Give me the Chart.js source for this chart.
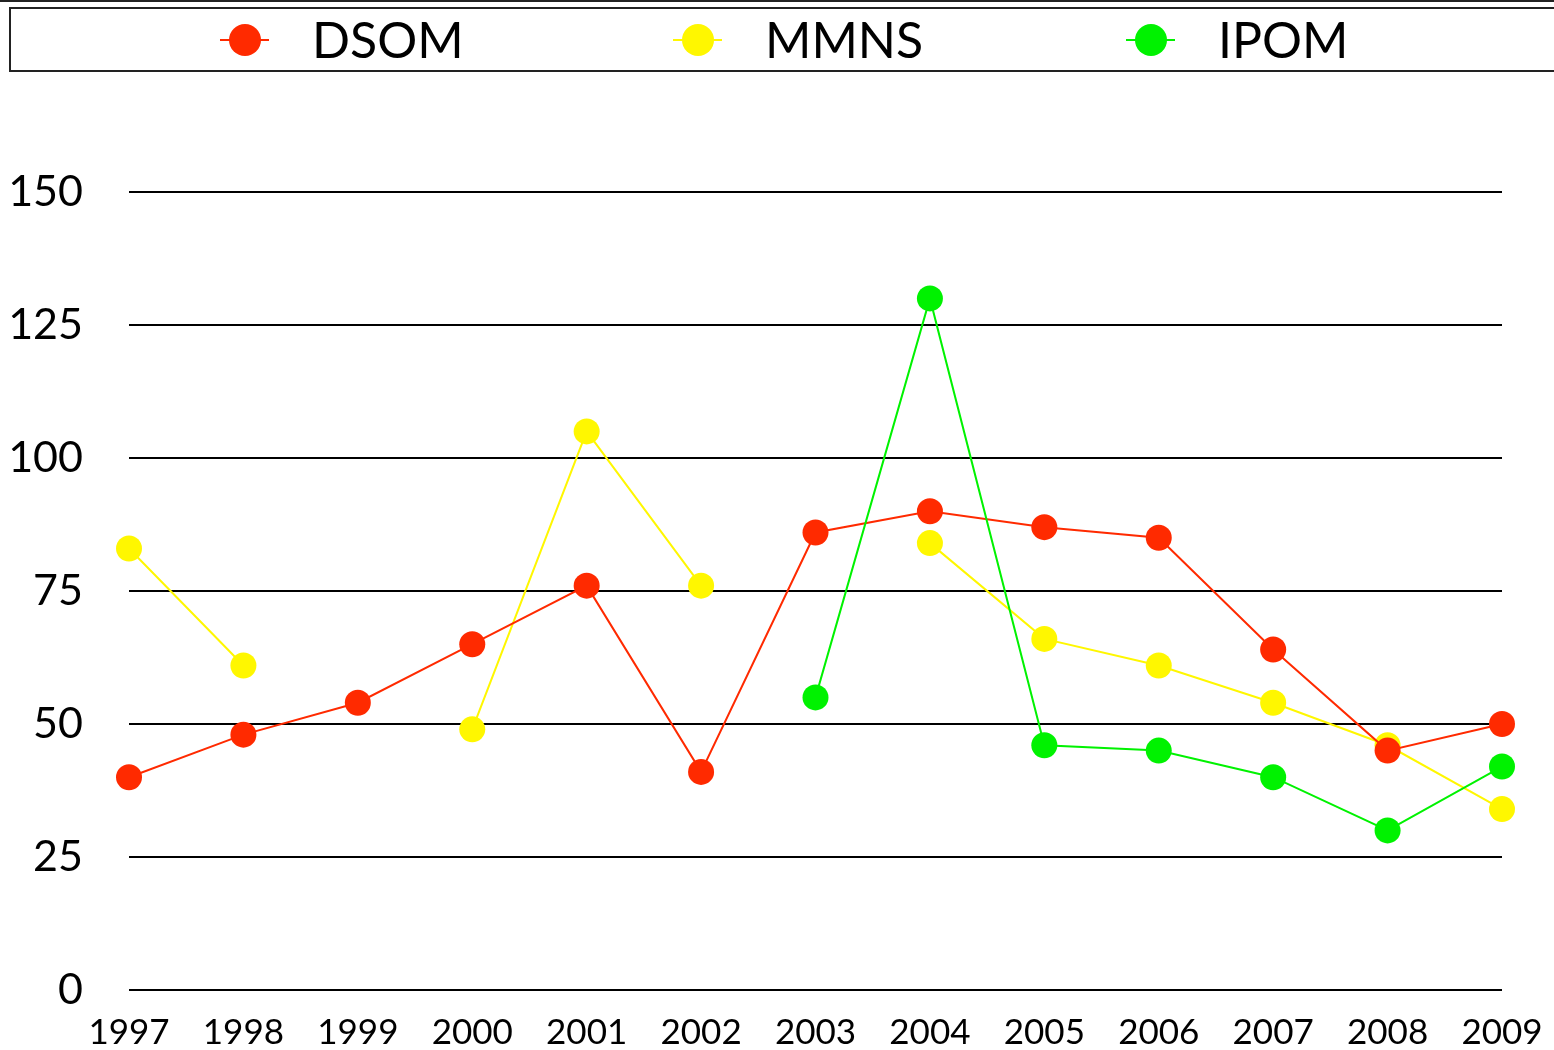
<!DOCTYPE html>
<html>
<head>
<meta charset="utf-8">
<script src="https://cdn.jsdelivr.net/npm/chart.js@4/dist/chart.umd.min.js"></script>
<style>
html,body{margin:0;padding:0;background:#fff;}
#c{display:block;}
</style>
</head>
<body>
<canvas id="c" width="1554" height="1050"></canvas>
<script>
const years = ['1997','1998','1999','2000','2001','2002','2003','2004','2005','2006','2007','2008','2009'];
const dsom = [40,48,54,65,76,41,86,90,87,85,64,45,50];
const mmns = [83,61,null,49,105,76,null,84,66,61,54,46,34];
const ipom = [null,null,null,null,null,null,55,130,46,45,40,30,42];
const seriesNames = ['DSOM','MMNS','IPOM'];
const seriesColors = ['#ff2a00','#fff700','#00f200'];
const yTicks = [0,25,50,75,100,125,150];

const FONT = 'Lato, "Open Sans", sans-serif';

const legendPlugin = {
  id: 'boxLegend',
  afterDraw(chart) {
    const ctx = chart.ctx;
    ctx.save();
    ctx.strokeStyle = '#222';
    ctx.lineWidth = 2;
    ctx.beginPath();
    ctx.moveTo(0, 1); ctx.lineTo(1554, 1);
    ctx.stroke();
    ctx.beginPath();
    ctx.rect(10, 8, 1560, 63);
    ctx.stroke();
    const centers = [245, 698, 1151];
    ctx.font = '50px ' + FONT;
    ctx.textBaseline = 'middle';
    ctx.textAlign = 'left';
    chart.data.datasets.forEach((ds, i) => {
      const cx = centers[i], cy = 40;
      ctx.strokeStyle = ds.borderColor;
      ctx.lineWidth = 2;
      ctx.beginPath();
      ctx.moveTo(cx - 25, cy); ctx.lineTo(cx + 24, cy);
      ctx.stroke();
      ctx.fillStyle = ds.borderColor;
      ctx.beginPath();
      ctx.arc(cx, cy, 16, 0, Math.PI * 2);
      ctx.fill();
      ctx.fillStyle = '#000';
      ctx.fillText(ds.label, cx + 67, cy + 2);
    });
    ctx.restore();
  }
};

const mk = (i, data, order) => ({
  label: seriesNames[i],
  data: data,
  borderColor: seriesColors[i],
  backgroundColor: seriesColors[i],
  pointBackgroundColor: seriesColors[i],
  pointBorderWidth: 0,
  pointRadius: 13,
  pointHoverRadius: 13,
  borderWidth: 2,
  spanGaps: false,
  tension: 0,
  order: order
});

new Chart(document.getElementById('c'), {
  type: 'line',
  data: {
    labels: years,
    datasets: [mk(0, dsom, 1), mk(1, mmns, 2), mk(2, ipom, 0)]
  },
  plugins: [legendPlugin],
  options: {
    responsive: false,
    animation: false,
    events: [],
    layout: { padding: { top: 192, right: 52, left: 0, bottom: 0 } },
    plugins: { legend: { display: false }, tooltip: { enabled: false } },
    scales: {
      x: {
        offset: false,
        grid: { display: false, drawTicks: false },
        border: { display: false },
        ticks: { color: '#000', font: { family: FONT, size: 35 }, padding: 22, maxRotation: 0, autoSkip: false },
        afterFit(s) { s.height = 60; s.paddingLeft = 0; s.paddingRight = 0; }
      },
      y: {
        min: 0, max: 150,
        afterBuildTicks(s) { s.ticks = yTicks.map(v => ({ value: v })); },
        grid: { color: '#000', lineWidth: 2, drawTicks: false },
        border: { display: false },
        ticks: { color: '#000', font: { family: FONT, size: 43 }, padding: 46 },
        afterFit(s) { s.width = 129; s.paddingTop = 0; s.paddingBottom = 0; }
      }
    }
  }
});
</script>
</body>
</html>
